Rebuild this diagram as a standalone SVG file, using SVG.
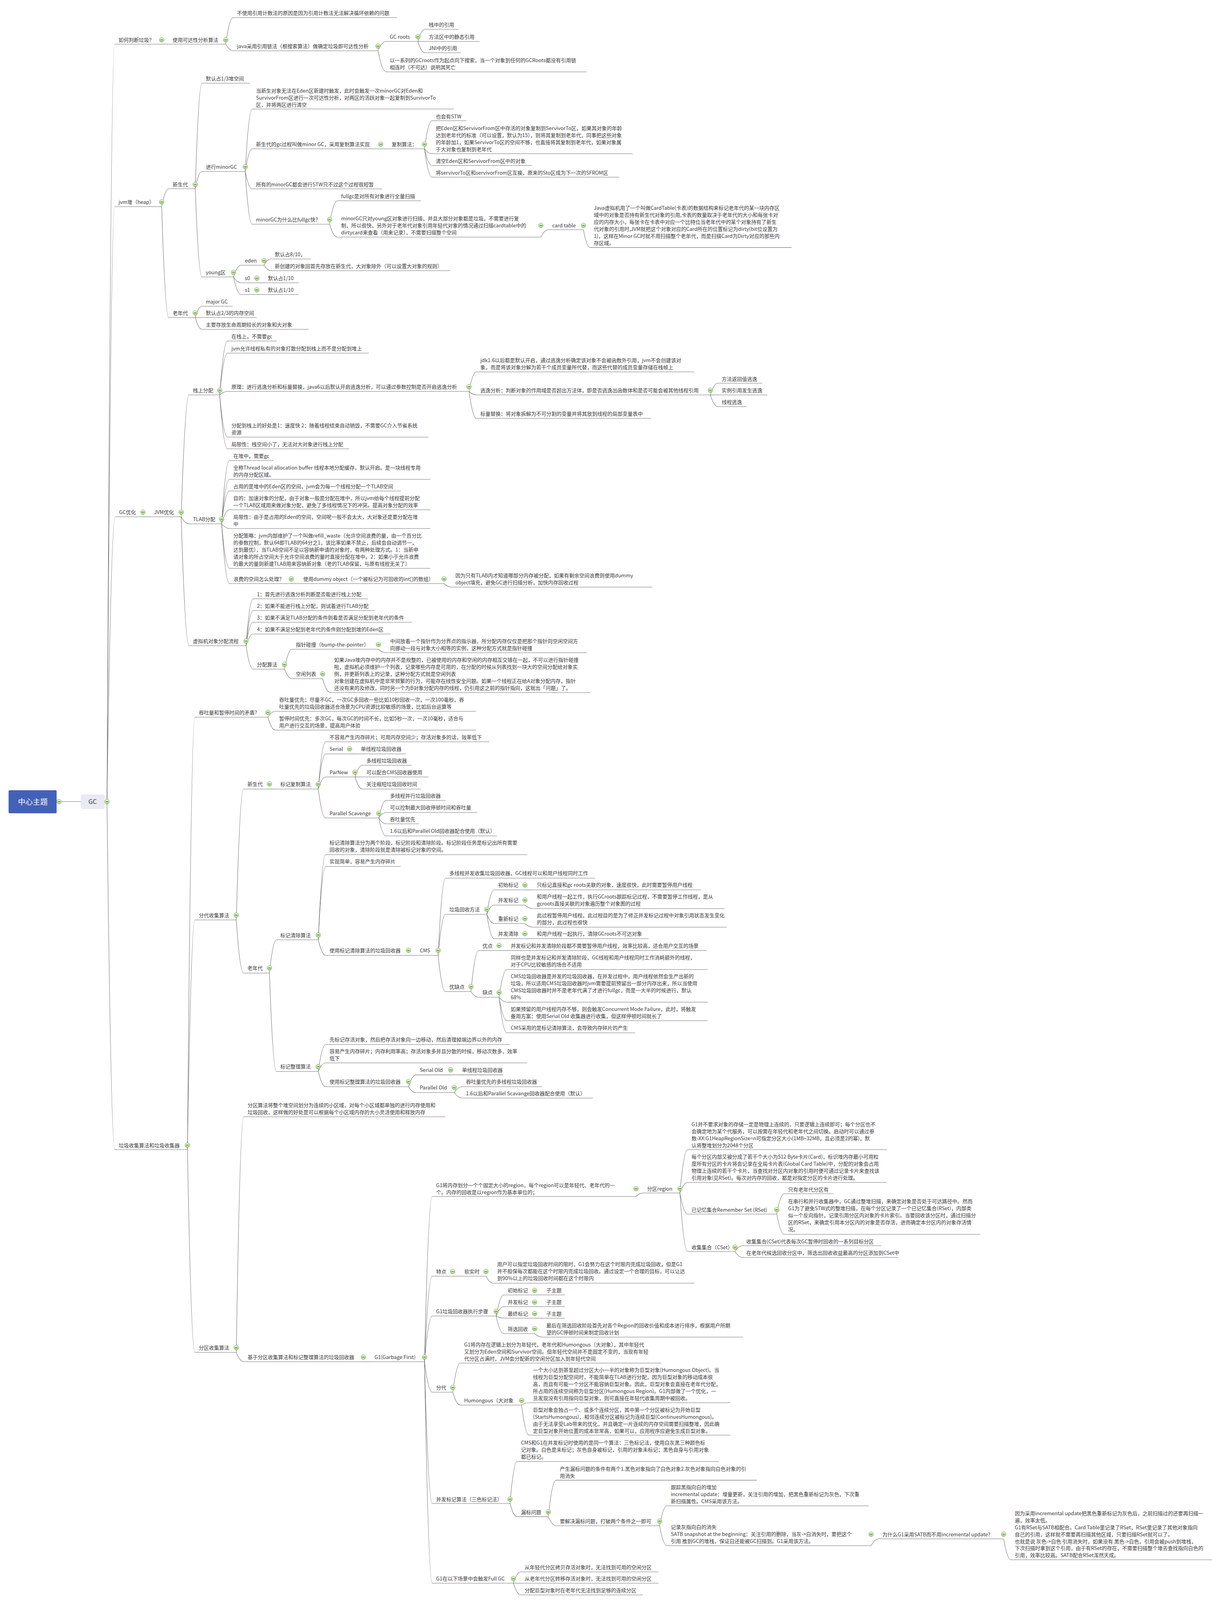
<svg xmlns="http://www.w3.org/2000/svg" width="3124" height="4104" viewBox="0 0 3124 4104">
<style>
.t{font-family:"Noto Sans CJK SC","Noto Sans","Liberation Sans",sans-serif;font-size:13px;fill:#3b3b3b}
.u{fill:none;stroke:#727272;stroke-width:1.1}
#connectors path{fill:none;stroke:#727272;stroke-width:1.1}
.rt{font-family:"Noto Sans CJK SC","Liberation Sans",sans-serif;font-size:19px;fill:#ffffff}
.gt{font-family:"Noto Sans CJK SC","Liberation Sans",sans-serif;font-size:16px;fill:#333333}
</style>
<defs>
<linearGradient id="ig" x1="0" y1="0" x2="0" y2="1"><stop offset="0" stop-color="#f0f9e6"/><stop offset="1" stop-color="#a6d27c"/></linearGradient>
<g id="mi"><circle r="6" fill="url(#ig)" stroke="#72a84d" stroke-width="1"/><path d="M-3.3 0H3.3" stroke="#3f6b28" stroke-width="1.4"/></g>
</defs>
<rect width="3124" height="4104" fill="#ffffff"/>
<g id="connectors">
<path d="M151 2052H207"/>
<path d="M274 2052Q283.8 113 293.5 113"/>
<path d="M274 2052Q283.8 529 293.5 529"/>
<path d="M274 2052Q284.5 1323 295 1323"/>
<path d="M274 2052Q284 2943 294 2943"/>
<path d="M414 113H432"/>
<path d="M578 113Q587.5 45 597 45"/>
<path d="M578 113Q587.5 130 597 130"/>
<path d="M968 130Q978 106 988 106"/>
<path d="M968 130Q978 183 988 183"/>
<path d="M1070 106Q1079 75 1088 75"/>
<path d="M1070 106H1088"/>
<path d="M1070 106Q1079 135 1088 135"/>
<path d="M414 529Q423 483 432 483"/>
<path d="M414 529Q423 813 432 813"/>
<path d="M500 483Q508.5 213 517 213"/>
<path d="M500 483Q508.5 439 517 439"/>
<path d="M500 483Q508.5 709 517 709"/>
<path d="M628 439Q636.8 279 645.5 279"/>
<path d="M628 439Q636.8 381 645.5 381"/>
<path d="M628 439Q636.8 483.5 645.5 483.5"/>
<path d="M628 439Q636.8 574 645.5 574"/>
<path d="M975 381H993"/>
<path d="M1087 381Q1096.5 309 1106 309"/>
<path d="M1087 381Q1096.5 393.5 1106 393.5"/>
<path d="M1087 381Q1096.5 423.5 1106 423.5"/>
<path d="M1087 381Q1096.5 453.5 1106 453.5"/>
<path d="M844 574Q853.8 514 863.6 514"/>
<path d="M844 574Q853.8 607 863.6 607"/>
<path d="M1385 607Q1394.5 588 1404 588"/>
<path d="M1494 588Q1502.3 633.6 1510.6 633.6"/>
<path d="M598 709Q607.5 679 617 679"/>
<path d="M598 709Q607.5 724 617 724"/>
<path d="M598 709Q607.5 754 617 754"/>
<path d="M676 679Q684.8 663 693.6 663"/>
<path d="M676 679Q684.8 693 693.6 693"/>
<path d="M657.6 724H676"/>
<path d="M657.6 754H676"/>
<path d="M500 813Q508.5 784 517 784"/>
<path d="M500 813H517"/>
<path d="M500 813Q508.5 843 517 843"/>
<path d="M366 1323H384.4"/>
<path d="M464 1323Q474 1011 484 1011"/>
<path d="M464 1323Q474 1341 484 1341"/>
<path d="M464 1323Q474 1653 484 1653"/>
<path d="M562.5 1011Q572.5 873 582.4 873"/>
<path d="M562.5 1011Q572.5 904 582.4 904"/>
<path d="M562.5 1011Q572.5 1002 582.4 1002"/>
<path d="M562.5 1011Q572.5 1119 582.4 1119"/>
<path d="M562.5 1011Q572.5 1149 582.4 1149"/>
<path d="M1201 1002Q1210.5 952 1220 952"/>
<path d="M1201 1002Q1210.5 1011 1220 1011"/>
<path d="M1201 1002Q1210.5 1071 1220 1071"/>
<path d="M1819 1011Q1828.5 981 1838 981"/>
<path d="M1819 1011H1838"/>
<path d="M1819 1011Q1828.5 1041 1838 1041"/>
<path d="M567.5 1341Q577.5 1179 587.4 1179"/>
<path d="M567.5 1341Q577.5 1227 587.4 1227"/>
<path d="M567.5 1341Q577.5 1257 587.4 1257"/>
<path d="M567.5 1341Q577.5 1305 587.4 1305"/>
<path d="M567.5 1341Q577.5 1353 587.4 1353"/>
<path d="M567.5 1341Q577.5 1455 587.4 1455"/>
<path d="M567.5 1341Q577.5 1494 587.4 1494"/>
<path d="M746 1494H766.4"/>
<path d="M1137 1494Q1146.5 1503 1156 1503"/>
<path d="M630 1653Q639 1533 648 1533"/>
<path d="M630 1653Q639 1563 648 1563"/>
<path d="M630 1653Q639 1593 648 1593"/>
<path d="M630 1653Q639 1623 648 1623"/>
<path d="M630 1653Q639 1713 648 1713"/>
<path d="M728.6 1713Q738 1662 747.5 1662"/>
<path d="M728.6 1713Q738 1737.5 747.5 1737.5"/>
<path d="M969 1662Q979 1671 989 1671"/>
<path d="M826 1737.5Q835.8 1773 845.5 1773"/>
<path d="M480 2943Q489.5 1836 499 1836"/>
<path d="M480 2943Q489.5 2355 499 2355"/>
<path d="M480 2943Q489.5 3462 499 3462"/>
<path d="M686 1836Q695.4 1821 704.7 1821"/>
<path d="M686 1836Q695.4 1869 704.7 1869"/>
<path d="M605 2355Q614.3 2020 623.6 2020"/>
<path d="M605 2355Q614.3 2491 623.6 2491"/>
<path d="M690 2020H707.8"/>
<path d="M815 2020Q824.4 1899 833.8 1899"/>
<path d="M815 2020Q824.4 1930 833.8 1930"/>
<path d="M815 2020Q824.4 1989 833.8 1989"/>
<path d="M815 2020Q824.4 2094 833.8 2094"/>
<path d="M895 1930H914"/>
<path d="M909 1989Q918.5 1959 928 1959"/>
<path d="M909 1989H928"/>
<path d="M909 1989Q918.5 2020 928 2020"/>
<path d="M970 2094Q979.2 2049 988.4 2049"/>
<path d="M970 2094Q979.2 2080 988.4 2080"/>
<path d="M970 2094Q979.2 2109 988.4 2109"/>
<path d="M970 2094Q979.2 2140 988.4 2140"/>
<path d="M690 2491Q698.9 2406 707.8 2406"/>
<path d="M690 2491Q698.9 2743 707.8 2743"/>
<path d="M815 2406Q824.4 2188 833.8 2188"/>
<path d="M815 2406Q824.4 2218 833.8 2218"/>
<path d="M815 2406Q824.4 2445.7 833.8 2445.7"/>
<path d="M1046 2445.7H1065"/>
<path d="M1122 2445.7Q1131.3 2248 1140.6 2248"/>
<path d="M1122 2445.7Q1131.3 2340.7 1140.6 2340.7"/>
<path d="M1122 2445.7Q1131.3 2538.5 1140.6 2538.5"/>
<path d="M1246.6 2340.7Q1256 2278 1265.4 2278"/>
<path d="M1246.6 2340.7Q1256 2317 1265.4 2317"/>
<path d="M1246.6 2340.7Q1256 2364 1265.4 2364"/>
<path d="M1246.6 2340.7Q1256 2403 1265.4 2403"/>
<path d="M1344 2278H1364.4"/>
<path d="M1344 2317Q1354.2 2326 1364.4 2326"/>
<path d="M1344 2364Q1354.2 2373.5 1364.4 2373.5"/>
<path d="M1344 2403H1364.4"/>
<path d="M1206 2538.5Q1215.8 2433.5 1225.6 2433.5"/>
<path d="M1206 2538.5Q1215.8 2553 1225.6 2553"/>
<path d="M1278 2433.5H1297.8"/>
<path d="M1278 2553Q1287.9 2482 1297.8 2482"/>
<path d="M1278 2553Q1287.9 2565.5 1297.8 2565.5"/>
<path d="M1278 2553Q1287.9 2613 1297.8 2613"/>
<path d="M1278 2553Q1287.9 2644 1297.8 2644"/>
<path d="M815 2743Q824.4 2674 833.8 2674"/>
<path d="M815 2743Q824.4 2721 833.8 2721"/>
<path d="M815 2743Q824.4 2782 833.8 2782"/>
<path d="M1046 2782Q1055.5 2751.6 1065 2751.6"/>
<path d="M1046 2782Q1055.5 2797 1065 2797"/>
<path d="M1154 2751.6H1173"/>
<path d="M1163 2797Q1173 2782 1183 2782"/>
<path d="M1163 2797Q1173 2811 1183 2811"/>
<path d="M605 3462Q614.5 2859 624 2859"/>
<path d="M605 3462Q614.5 3486 624 3486"/>
<path d="M930.5 3486H949"/>
<path d="M1087 3486Q1096.9 3063 1106.8 3063"/>
<path d="M1087 3486Q1096.9 3267 1106.8 3267"/>
<path d="M1087 3486Q1096.9 3369 1106.8 3369"/>
<path d="M1087 3486Q1096.9 3564 1106.8 3564"/>
<path d="M1087 3486Q1096.9 3849 1106.8 3849"/>
<path d="M1087 3486Q1096.9 4053 1106.8 4053"/>
<path d="M1628.5 3063Q1637.8 3054 1647 3054"/>
<path d="M1741 3054Q1750.9 2943 1760.7 2943"/>
<path d="M1741 3054Q1750.9 3027 1760.7 3027"/>
<path d="M1741 3054Q1750.9 3108 1760.7 3108"/>
<path d="M1741 3054Q1750.9 3204 1760.7 3204"/>
<path d="M1989 3108Q1998.5 3056 2008 3056"/>
<path d="M1989 3108Q1998.5 3160 2008 3160"/>
<path d="M1882 3204Q1891.5 3189 1901 3189"/>
<path d="M1882 3204Q1891.5 3219 1901 3219"/>
<path d="M1159 3267H1179"/>
<path d="M1244.4 3267Q1253.7 3285 1263 3285"/>
<path d="M1270.5 3369Q1280.3 3315 1290 3315"/>
<path d="M1270.5 3369Q1280.3 3345 1290 3345"/>
<path d="M1270.5 3369Q1280.3 3374.5 1290 3374.5"/>
<path d="M1270.5 3369Q1280.3 3414 1290 3414"/>
<path d="M1369 3315H1389"/>
<path d="M1369 3345H1389"/>
<path d="M1369 3374.5H1389"/>
<path d="M1369 3414Q1379 3423 1389 3423"/>
<path d="M1159.4 3564Q1169 3489.5 1178.5 3489.5"/>
<path d="M1159.4 3564Q1169 3597 1178.5 3597"/>
<path d="M1335.6 3597Q1345.2 3591 1354.8 3591"/>
<path d="M1335.6 3597Q1345.2 3674 1354.8 3674"/>
<path d="M1306 3849Q1315 3741.5 1324 3741.5"/>
<path d="M1306 3849Q1315 3882.6 1324 3882.6"/>
<path d="M1404 3882.6Q1413.8 3789.4 1423.6 3789.4"/>
<path d="M1404 3882.6Q1413.8 3906 1423.6 3906"/>
<path d="M1689 3906Q1698.4 3855 1707.8 3855"/>
<path d="M1689 3906Q1698.4 3957 1707.8 3957"/>
<path d="M2230.5 3957Q2240 3939.5 2249.5 3939.5"/>
<path d="M2570 3939.5Q2579.3 3993 2588.5 3993"/>
<path d="M1314.5 4053Q1324 4024 1333.6 4024"/>
<path d="M1314.5 4053H1333.6"/>
<path d="M1314.5 4053Q1324 4083 1333.6 4083"/>
</g>
<g id="n-root"><rect x="22" y="2023" width="123" height="59" rx="3" fill="#4361b8"/><text class="rt" x="84" y="2060" text-anchor="middle">中心主题</text><use href="#mi" x="151" y="2052"/></g>
<g id="n-gc"><rect x="207" y="2034" width="61" height="37" rx="4" fill="#e9eaf2"/><text class="gt" x="237" y="2058" text-anchor="middle">GC</text><use href="#mi" x="274" y="2052"/></g>
<g id="n-judge"><text class="t" x="303.5" y="107">如何判断垃圾？</text><path class="u" d="M293.5 113H414"/><use href="#mi" x="414" y="102"/></g>
<g id="n-reach"><text class="t" x="442" y="107">使用可达性分析算法</text><path class="u" d="M432 113H578"/><use href="#mi" x="578" y="102"/></g>
<g id="n-refcount"><text class="t" x="607" y="38">不使用引用计数法的原因是因为引用计数法无法解决循环依赖的问题</text><path class="u" d="M597 45H1016"/></g>
<g id="n-chain"><text class="t" x="607" y="123">java采用引用链法（根搜索算法）做确定垃圾即可达性分析</text><path class="u" d="M597 130H968"/><use href="#mi" x="968" y="118"/></g>
<g id="n-gcroots"><text class="t" x="998" y="99">GC roots</text><path class="u" d="M988 106H1070"/><use href="#mi" x="1070" y="94"/></g>
<g id="n-stackref"><text class="t" x="1098" y="68">栈中的引用</text><path class="u" d="M1088 75H1174"/></g>
<g id="n-staticref"><text class="t" x="1098" y="99">方法区中的静态引用</text><path class="u" d="M1088 106H1228"/></g>
<g id="n-jniref"><text class="t" x="1098" y="128">JNI中的引用</text><path class="u" d="M1088 135H1180"/></g>
<g id="n-search"><text class="t"><tspan x="998" y="159">以一系列的GCroots作为起点向下搜索，当一个对象到任何的GCRoots都没有引用链</tspan><tspan x="998" dy="18">相连时（不可达）说明其死亡</tspan></text><path class="u" d="M988 184H1502"/></g>
<g id="n-heap"><text class="t" x="303.5" y="522">jvm堆（heap）</text><path class="u" d="M293.5 529H414"/><use href="#mi" x="414" y="517"/></g>
<g id="n-young"><text class="t" x="442" y="477">新生代</text><path class="u" d="M432 483H500"/><use href="#mi" x="500" y="472"/></g>
<g id="n-old"><text class="t" x="442" y="806">老年代</text><path class="u" d="M432 813H500"/><use href="#mi" x="500" y="801"/></g>
<g id="n-13"><text class="t" x="527" y="206">默认占1/3堆空间</text><path class="u" d="M517 213H640"/></g>
<g id="n-minorgc"><text class="t" x="527" y="432">进行minorGC</text><path class="u" d="M517 439H628"/><use href="#mi" x="628" y="427"/></g>
<g id="n-youngarea"><text class="t" x="527" y="702">young区</text><path class="u" d="M517 709H598"/><use href="#mi" x="598" y="697"/></g>
<g id="n-trigger"><text class="t"><tspan x="655.5" y="236.5">当新生对象无法在Eden区新建时触发，此时会触发一次minorGC对Eden和</tspan><tspan x="655.5" dy="18">SurvivorFrom区进行一次可达性分析，对两区的活跃对象一起复制到SurvivorTo</tspan><tspan x="655.5" dy="18">区，并将两区进行清空</tspan></text><path class="u" d="M645.5 279H1162"/></g>
<g id="n-minorproc"><text class="t" x="655.5" y="374">新生代的gc过程叫做minor GC，采用复制算法实现</text><path class="u" d="M645.5 381H975"/><use href="#mi" x="975" y="369"/></g>
<g id="n-copy"><text class="t" x="1003" y="374">复制算法：</text><path class="u" d="M993 381H1087"/><use href="#mi" x="1087" y="369"/></g>
<g id="n-stw"><text class="t" x="1116" y="302.5">也会有STW</text><path class="u" d="M1106 309H1194"/></g>
<g id="n-copydetail"><text class="t"><tspan x="1116" y="332.5">把Eden区和ServivorFrom区中存活的对象复制到ServivorTo区，如果其对象的年龄</tspan><tspan x="1116" dy="18">达到老年代的标准（可以设置，默认为15），则将其复制到老年代，同事把这些对象</tspan><tspan x="1116" dy="18">的年龄加1，如果ServivorTo区的空间不够，也直接将其复制到老年代，如果对象属</tspan><tspan x="1116" dy="18">于大对象也复制到老年代</tspan></text><path class="u" d="M1106 393.5H1620"/></g>
<g id="n-clear"><text class="t" x="1116" y="416.6">清空Eden区和ServivorFrom区中的对象</text><path class="u" d="M1106 423.5H1362"/></g>
<g id="n-swap"><text class="t" x="1116" y="446.7">将servivorTo区和servivorFrom区互换，原来的Sto区成为下一次的SFROM区</text><path class="u" d="M1106 453.5H1585"/></g>
<g id="n-allstw"><text class="t" x="655.5" y="476.6">所有的minorGC都会进行STW只不过这个过程很短暂</text><path class="u" d="M645.5 483.5H978"/></g>
<g id="n-why"><text class="t" x="655.5" y="567">minorGC为什么比fullgc快？</text><path class="u" d="M645.5 574H844"/><use href="#mi" x="844" y="562"/></g>
<g id="n-fullgc"><text class="t" x="873.6" y="507">fullgc是对所有对象进行全量扫描</text><path class="u" d="M863.6 514H1078"/></g>
<g id="n-minoronly"><text class="t"><tspan x="873.6" y="563.5">minorGC只对young区对象进行扫描，并且大部分对象都是垃圾，不需要进行复</tspan><tspan x="873.6" dy="18">制，所以很快，另外对于老年代对象引用年轻代对象的情况通过扫描cardtable中的</tspan><tspan x="873.6" dy="18">dirtycard来查看（用来记录），不需要扫描整个空间</tspan></text><path class="u" d="M863.6 607H1385"/><use href="#mi" x="1385" y="577"/></g>
<g id="n-cardtable"><text class="t" x="1414" y="582">card table</text><path class="u" d="M1404 588H1494"/><use href="#mi" x="1494" y="577"/></g>
<g id="n-carddetail"><text class="t"><tspan x="1520.6" y="536.7">Java虚拟机用了一个叫做CardTable(卡表)的数据结构来标记老年代的某一块内存区</tspan><tspan x="1520.6" dy="18">域中的对象是否持有新生代对象的引用,卡表的数量取决于老年代的大小和每张卡对</tspan><tspan x="1520.6" dy="18">应的内存大小，每张卡在卡表中对应一个比特位当老年代中的某个对象持有了新生</tspan><tspan x="1520.6" dy="18">代对象的引用时,JVM就把这个对象对应的Card所在的位置标记为dirty(bit位设置为</tspan><tspan x="1520.6" dy="18">1)，这样在Minor GC时就不用扫描整个老年代，而是扫描Card为Dirty对应的那些内</tspan><tspan x="1520.6" dy="18">存区域。</tspan></text><path class="u" d="M1510.6 633.6H2027"/></g>
<g id="n-eden"><text class="t" x="627" y="672">eden</text><path class="u" d="M617 679H676"/><use href="#mi" x="676" y="667"/></g>
<g id="n-810"><text class="t" x="703.6" y="656">默认占8/10，</text><path class="u" d="M693.6 663H796"/></g>
<g id="n-newobj"><text class="t" x="703.6" y="686">新创建的对象回首先存放在新生代，大对象除外（可以设置大对象的规则）</text><path class="u" d="M693.6 693H1153"/></g>
<g id="n-s0"><text class="t" x="627" y="717">s0</text><path class="u" d="M617 724H657.6"/><use href="#mi" x="657.6" y="712"/></g>
<g id="n-s0d"><text class="t" x="686" y="717">默认占1/10</text><path class="u" d="M676 724H765"/></g>
<g id="n-s1"><text class="t" x="627" y="747">s1</text><path class="u" d="M617 754H657.6"/><use href="#mi" x="657.6" y="742"/></g>
<g id="n-s1d"><text class="t" x="686" y="747">默认占1/10</text><path class="u" d="M676 754H765"/></g>
<g id="n-major"><text class="t" x="527" y="777">major GC</text><path class="u" d="M517 784H596"/></g>
<g id="n-23"><text class="t" x="527" y="806">默认占2/3的内存空间</text><path class="u" d="M517 813H657"/></g>
<g id="n-longlive"><text class="t" x="527" y="836">主要存放生命周期较长的对象和大对象</text><path class="u" d="M517 843H790"/></g>
<g id="n-gcopt"><text class="t" x="305" y="1316">GC优化</text><path class="u" d="M295 1323H366"/><use href="#mi" x="366" y="1311"/></g>
<g id="n-jvmopt"><text class="t" x="394.4" y="1316">JVM优化</text><path class="u" d="M384.4 1323H464"/><use href="#mi" x="464" y="1311"/></g>
<g id="n-stackalloc"><text class="t" x="494" y="1004">栈上分配</text><path class="u" d="M484 1011H562.5"/><use href="#mi" x="562.5" y="999"/></g>
<g id="n-tlab"><text class="t" x="494" y="1334">TLAB分配</text><path class="u" d="M484 1341H567.5"/><use href="#mi" x="567.5" y="1329"/></g>
<g id="n-allocflow"><text class="t" x="494" y="1646">虚拟机对象分配流程</text><path class="u" d="M484 1653H630"/><use href="#mi" x="630" y="1641"/></g>
<g id="n-onstack"><text class="t" x="592.4" y="866">在栈上，不需要gc</text><path class="u" d="M582.4 873H709"/></g>
<g id="n-scatter"><text class="t" x="592.4" y="897">jvm允许线程私有的对象打散分配到栈上而不是分配到堆上</text><path class="u" d="M582.4 904H944.5"/></g>
<g id="n-principle"><text class="t" x="592.4" y="995">原理：进行逃逸分析和标量替换，java6以后默认开启逃逸分析，可以通过参数控制是否开启逃逸分析</text><path class="u" d="M582.4 1002H1201"/><use href="#mi" x="1201" y="990"/></g>
<g id="n-jdk16"><text class="t"><tspan x="1230" y="926.5">jdk1.6以后都是默认开启，通过逃逸分析确定该对象不会被函数外引用，jvm不会创建该对</tspan><tspan x="1230" dy="18">象，而是将该对象分解为若干个成员变量所代替，而这些代替的成员变量存储在栈帧上</tspan></text><path class="u" d="M1220 952H1778"/></g>
<g id="n-escape"><text class="t" x="1230" y="1004">逃逸分析：判断对象的作用域是否超出方法体，即是否逃逸出函数体和是否可能会被其他线程引用</text><path class="u" d="M1220 1011H1819"/><use href="#mi" x="1819" y="999"/></g>
<g id="n-esc1"><text class="t" x="1848" y="975">方法返回值逃逸</text><path class="u" d="M1838 981H1952"/></g>
<g id="n-esc2"><text class="t" x="1848" y="1004">实例引用发生逃逸</text><path class="u" d="M1838 1011H1965"/></g>
<g id="n-esc3"><text class="t" x="1848" y="1034">线程逃逸</text><path class="u" d="M1838 1041H1912"/></g>
<g id="n-scalar"><text class="t" x="1230" y="1064">标量替换：将对象拆解为不可分割的变量并将其放到线程的局部变量表中</text><path class="u" d="M1220 1071H1667"/></g>
<g id="n-benefit"><text class="t"><tspan x="592.4" y="1093.6">分配到栈上的好处是1：速度快 2：随着线程结束自动销毁，不需要GC介入节省系统</tspan><tspan x="592.4" dy="18">资源</tspan></text><path class="u" d="M582.4 1119H1097"/></g>
<g id="n-stacklimit"><text class="t" x="592.4" y="1142">局限性：栈空间小了，无法对大对象进行栈上分配</text><path class="u" d="M582.4 1149H894"/></g>
<g id="n-onheap"><text class="t" x="597.4" y="1172">在堆中，需要gc</text><path class="u" d="M587.4 1179H700"/></g>
<g id="n-tlabfull"><text class="t"><tspan x="597.4" y="1202">全称Thread local allocation buffer 线程本地分配缓存，默认开启。是一块线程专用</tspan><tspan x="597.4" dy="18">的内存分配区域。</tspan></text><path class="u" d="M587.4 1227H1102"/></g>
<g id="n-tlabeden"><text class="t" x="597.4" y="1249.5">占用的是堆中的Eden区的空间，jvm会为每一个线程分配一个TLAB空间</text><path class="u" d="M587.4 1257H1026"/></g>
<g id="n-tlabgoal"><text class="t"><tspan x="597.4" y="1280.4">目的：加速对象的分配，由于对象一般是分配在堆中，所以jvm给每个线程提前分配</tspan><tspan x="597.4" dy="18">一个TLAB区域用来做对象分配，避免了多线程情况下的冲突。提高对象分配的效率</tspan></text><path class="u" d="M587.4 1305H1102"/></g>
<g id="n-tlablimit"><text class="t"><tspan x="597.4" y="1328">局限性：由于是占用的Eden的空间，空间呢一般不会太大，大对象还是要分配在堆</tspan><tspan x="597.4" dy="18">中</tspan></text><path class="u" d="M587.4 1353H1102"/></g>
<g id="n-tlabstrategy"><text class="t"><tspan x="597.4" y="1376">分配策略：jvm内部维护了一个叫做refill_waste（允许空间浪费的量，由一个百分比</tspan><tspan x="597.4" dy="18">的参数控制，默认64即TLAB的64分之1，该比率如果不禁止，后续会自动调节一，</tspan><tspan x="597.4" dy="18">达到最优），当TLAB空间不足以容纳新申请的对象时，有两种处理方式。1：当新申</tspan><tspan x="597.4" dy="18">请对象的所占空间大于允许空间浪费的量时直接分配在堆中。2：如果小于允许浪费</tspan><tspan x="597.4" dy="18">的最大的量则新建TLAB用来容纳新对象（老的TLAB保留，与原有线程无关了）</tspan></text><path class="u" d="M587.4 1455H1102"/></g>
<g id="n-waste"><text class="t" x="597.4" y="1487">浪费的空间怎么处理？</text><path class="u" d="M587.4 1494H746"/><use href="#mi" x="746" y="1482"/></g>
<g id="n-dummy"><text class="t" x="776.4" y="1487">使用dummy object（一个被标记为可回收的int[]的数组）</text><path class="u" d="M766.4 1494H1137"/><use href="#mi" x="1137" y="1482"/></g>
<g id="n-dummyd"><text class="t"><tspan x="1166" y="1478">因为只有TLAB内才知道哪部分内存被分配，如果有剩余空间浪费则使用dummy</tspan><tspan x="1166" dy="18">object填充，避免GC进行扫描分析，加快内存回收过程</tspan></text><path class="u" d="M1156 1503H1670"/></g>
<g id="n-flow1"><text class="t" x="658" y="1526">1：首先进行逃逸分析判断是否能进行栈上分配</text><path class="u" d="M648 1533H942.5"/></g>
<g id="n-flow2"><text class="t" x="658" y="1556">2：如果不能进行栈上分配，则试着进行TLAB分配</text><path class="u" d="M648 1563H960"/></g>
<g id="n-flow3"><text class="t" x="658" y="1586">3：如果不满足TLAB分配的条件则看是否满足分配到老年代的条件</text><path class="u" d="M648 1593H1054.5"/></g>
<g id="n-flow4"><text class="t" x="658" y="1616">4：如果不满足分配到老年代的条件则分配到堆的Eden区</text><path class="u" d="M648 1623H1000"/></g>
<g id="n-allocalgo"><text class="t" x="658" y="1706">分配算法</text><path class="u" d="M648 1713H728.6"/><use href="#mi" x="728.6" y="1701"/></g>
<g id="n-bump"><text class="t" x="757.5" y="1655">指针碰撞（bump-the-pointer）</text><path class="u" d="M747.5 1662H969"/><use href="#mi" x="969" y="1650"/></g>
<g id="n-bumpd"><text class="t"><tspan x="999" y="1646">中间放着一个指针作为分界点的指示器，所分配内存仅仅是把那个指针向空闲空间方</tspan><tspan x="999" dy="18">向挪动一段与对象大小相等的实例，这种分配方式就是指针碰撞</tspan></text><path class="u" d="M989 1671H1503"/></g>
<g id="n-freelist"><text class="t" x="757.5" y="1730">空闲列表</text><path class="u" d="M747.5 1737.5H826"/><use href="#mi" x="826" y="1725"/></g>
<g id="n-freelistd"><text class="t"><tspan x="855.5" y="1693.6">如果Java堆内存中的内存并不是规整的，已被使用的内存和空闲的内存相互交错在一起，不可以进行指针碰撞</tspan><tspan x="855.5" dy="18">啦，虚拟机必须维护一个列表，记录哪些内存是可用的，在分配的时候从列表找到一块大的空间分配给对象实</tspan><tspan x="855.5" dy="18">例，并更新列表上的记录，这种分配方式就是空闲列表</tspan><tspan x="855.5" dy="18">对象创建在虚拟机中是非常频繁的行为，可能存在线性安全问题。如果一个线程正在给A对象分配内存，指针</tspan><tspan x="855.5" dy="18">还没有来的及修改，同时另一个为B对象分配内存的线程，仍引用这之前的指针指向，这就出「问题」了。</tspan></text><path class="u" d="M845.5 1773H1512"/></g>
<g id="n-algo"><text class="t" x="304" y="2936.5">垃圾收集算法和垃圾收集器</text><path class="u" d="M294 2943H480"/><use href="#mi" x="480" y="2931.5"/></g>
<g id="n-tradeoff"><text class="t" x="509" y="1828.5">吞吐量和暂停时间的矛盾?</text><path class="u" d="M499 1836H686"/><use href="#mi" x="686" y="1823.5"/></g>
<g id="n-throughput"><text class="t"><tspan x="714.7" y="1796">吞吐量优先：尽量不GC，一次GC多回收一些比如10秒回收一次，一次100毫秒，吞</tspan><tspan x="714.7" dy="18">吐量优先的垃圾回收器适合场景为CPU资源比较敏感的场景，比如后台运算等</tspan></text><path class="u" d="M704.7 1821H1219"/></g>
<g id="n-pause"><text class="t"><tspan x="714.7" y="1844">暂停时间优先：多次GC，每次GC的时间不长，比如5秒一次，一次10毫秒，适合与</tspan><tspan x="714.7" dy="18">用户进行交互的场景，提高用户体验</tspan></text><path class="u" d="M704.7 1869H1219"/></g>
<g id="n-gen"><text class="t" x="509" y="2347.6">分代收集算法</text><path class="u" d="M499 2355H605"/><use href="#mi" x="605" y="2342.6"/></g>
<g id="n-gyoung"><text class="t" x="633.6" y="2012">新生代</text><path class="u" d="M623.6 2020H690"/><use href="#mi" x="690" y="2007"/></g>
<g id="n-markcopy"><text class="t" x="717.8" y="2012">标记复制算法</text><path class="u" d="M707.8 2020H815"/><use href="#mi" x="815" y="2007"/></g>
<g id="n-mc1"><text class="t" x="843.8" y="1891.6">不容易产生内存碎片；可用内存空间少；存活对象多的话，效率低下</text><path class="u" d="M833.8 1899H1253"/></g>
<g id="n-serial"><text class="t" x="843.8" y="1922">Serial</text><path class="u" d="M833.8 1930H895"/><use href="#mi" x="895" y="1917"/></g>
<g id="n-seriald"><text class="t" x="924" y="1922">单线程垃圾回收器</text><path class="u" d="M914 1930H1039"/></g>
<g id="n-parnew"><text class="t" x="843.8" y="1981.8">ParNew</text><path class="u" d="M833.8 1989H909"/><use href="#mi" x="909" y="1976.8"/></g>
<g id="n-pn1"><text class="t" x="938" y="1951.5">多线程垃圾回收器</text><path class="u" d="M928 1959H1054"/></g>
<g id="n-pn2"><text class="t" x="938" y="1981.8">可以配合CMS回收器使用</text><path class="u" d="M928 1989H1097"/></g>
<g id="n-pn3"><text class="t" x="938" y="2012">关注缩短垃圾回收时间</text><path class="u" d="M928 2020H1078"/></g>
<g id="n-ps"><text class="t" x="843.8" y="2086.8">Parallel Scavenge</text><path class="u" d="M833.8 2094H970"/><use href="#mi" x="970" y="2081.8"/></g>
<g id="n-ps1"><text class="t" x="998.4" y="2041.7">多线程并行垃圾回收器</text><path class="u" d="M988.4 2049H1141"/></g>
<g id="n-ps2"><text class="t" x="998.4" y="2072">可以控制最大回收停顿时间和吞吐量</text><path class="u" d="M988.4 2080H1222"/></g>
<g id="n-ps3"><text class="t" x="998.4" y="2101.6">吞吐量优先</text><path class="u" d="M988.4 2109H1073"/></g>
<g id="n-ps4"><text class="t" x="998.4" y="2131.9">1.6以后和Parallel Old回收器配合使用（默认）</text><path class="u" d="M988.4 2140H1272"/></g>
<g id="n-gold"><text class="t" x="633.6" y="2483">老年代</text><path class="u" d="M623.6 2491H690"/><use href="#mi" x="690" y="2478"/></g>
<g id="n-marksweep"><text class="t" x="717.8" y="2398.5">标记清除算法</text><path class="u" d="M707.8 2406H815"/><use href="#mi" x="815" y="2393.5"/></g>
<g id="n-ms1"><text class="t"><tspan x="843.8" y="2162">标记清除算法分为两个阶段，标记阶段和清除阶段。标记阶段任务是标记出所有需要</tspan><tspan x="843.8" dy="18">回收的对象，清除阶段就是清除被标记对象的空间。</tspan></text><path class="u" d="M833.8 2188H1350"/></g>
<g id="n-ms2"><text class="t" x="843.8" y="2210.4">实现简单，容易产生内存碎片</text><path class="u" d="M833.8 2218H1026"/></g>
<g id="n-msuse"><text class="t" x="843.8" y="2437.8">使用标记清除算法的垃圾回收器</text><path class="u" d="M833.8 2445.7H1046"/><use href="#mi" x="1046" y="2432.8"/></g>
<g id="n-cms"><text class="t" x="1075" y="2437.8">CMS</text><path class="u" d="M1065 2445.7H1122"/><use href="#mi" x="1122" y="2432.8"/></g>
<g id="n-cms1"><text class="t" x="1150.6" y="2240">多线程并发收集垃圾回收器，GC线程可以和用户线程同时工作</text><path class="u" d="M1140.6 2248H1524"/></g>
<g id="n-cmsmethod"><text class="t" x="1150.6" y="2332.8">垃圾回收方法</text><path class="u" d="M1140.6 2340.7H1246.6"/><use href="#mi" x="1246.6" y="2327.8"/></g>
<g id="n-im"><text class="t" x="1275.4" y="2270.4">初始标记</text><path class="u" d="M1265.4 2278H1344"/><use href="#mi" x="1344" y="2265.4"/></g>
<g id="n-imd"><text class="t" x="1374.4" y="2270.4">只标记直接和gc roots关联的对象，速度很快，此时需要暂停用户线程</text><path class="u" d="M1364.4 2278H1795"/></g>
<g id="n-cm"><text class="t" x="1275.4" y="2309">并发标记</text><path class="u" d="M1265.4 2317H1344"/><use href="#mi" x="1344" y="2304"/></g>
<g id="n-cmd"><text class="t"><tspan x="1374.4" y="2300">和用户线程一起工作，执行GCroots跟踪标记过程，不需要暂停工作线程，是从</tspan><tspan x="1374.4" dy="18">gcroots直接关联的对象遍历整个对象图的过程</tspan></text><path class="u" d="M1364.4 2326H1855"/></g>
<g id="n-rm"><text class="t" x="1275.4" y="2356.7">重新标记</text><path class="u" d="M1265.4 2364H1344"/><use href="#mi" x="1344" y="2351.7"/></g>
<g id="n-rmd"><text class="t"><tspan x="1374.4" y="2347.6">此过程暂停用户线程，此过程目的是为了修正并发标记过程中对象引用状态发生变化</tspan><tspan x="1374.4" dy="18">的部分，此过程也很快</tspan></text><path class="u" d="M1364.4 2373.5H1861"/></g>
<g id="n-cs"><text class="t" x="1275.4" y="2395">并发清除</text><path class="u" d="M1265.4 2403H1344"/><use href="#mi" x="1344" y="2390"/></g>
<g id="n-csd"><text class="t" x="1374.4" y="2395">和用户线程一起执行，清除GCroots不可达对象</text><path class="u" d="M1364.4 2403H1661"/></g>
<g id="n-proscons"><text class="t" x="1150.6" y="2530.6">优缺点</text><path class="u" d="M1140.6 2538.5H1206"/><use href="#mi" x="1206" y="2525.6"/></g>
<g id="n-pro"><text class="t" x="1235.6" y="2425.6">优点</text><path class="u" d="M1225.6 2433.5H1278"/><use href="#mi" x="1278" y="2420.6"/></g>
<g id="n-prod"><text class="t" x="1307.8" y="2425.6">并发标记和并发清除阶段都不需要暂停用户线程，效率比较高，适合用户交互的场景</text><path class="u" d="M1297.8 2433.5H1810"/></g>
<g id="n-con"><text class="t" x="1235.6" y="2545.4">缺点</text><path class="u" d="M1225.6 2553H1278"/><use href="#mi" x="1278" y="2540.4"/></g>
<g id="n-con1"><text class="t"><tspan x="1307.8" y="2456">同样也是并发标记和并发清除阶段，GC线程和用户线程同时工作消耗额外的线程，</tspan><tspan x="1307.8" dy="18">对于CPU比较敏感的场合不适用</tspan></text><path class="u" d="M1297.8 2482H1812"/></g>
<g id="n-con2"><text class="t"><tspan x="1307.8" y="2503.5">CMS垃圾回收器是并发的垃圾回收器，在并发过程中，用户线程依然会生产出新的</tspan><tspan x="1307.8" dy="18">垃圾，所以适用CMS垃圾回收器时jvm需要提前预留出一部分内存出来，所以当使用</tspan><tspan x="1307.8" dy="18">CMS垃圾回收器时并不是老年代满了才进行fullgc，而是一大半的时候进行，默认</tspan><tspan x="1307.8" dy="18">68%</tspan></text><path class="u" d="M1297.8 2565.5H1812"/></g>
<g id="n-con3"><text class="t"><tspan x="1307.8" y="2588">如果预留的用户线程内存不够，则会触发Concurrent Mode Failure，此时，将触发</tspan><tspan x="1307.8" dy="18">备用方案：使用Serial Old 收集器进行收集，但这样停顿时间就长了</tspan></text><path class="u" d="M1297.8 2613H1812"/></g>
<g id="n-con4"><text class="t" x="1307.8" y="2636">CMS采用的是标记清除算法，会导致内存碎片的产生</text><path class="u" d="M1297.8 2644H1626"/></g>
<g id="n-markcompact"><text class="t" x="717.8" y="2735.4">标记整理算法</text><path class="u" d="M707.8 2743H815"/><use href="#mi" x="815" y="2730.4"/></g>
<g id="n-mk1"><text class="t" x="843.8" y="2666">先标记存活对象，然后把存活对象向一边移动，然后清理掉端边界以外的内存</text><path class="u" d="M833.8 2674H1306"/></g>
<g id="n-mk2"><text class="t"><tspan x="843.8" y="2695.5">容易产生内存碎片；内存利用率高；存活对象多并且分散的时候，移动次数多，效率</tspan><tspan x="843.8" dy="18">低下</tspan></text><path class="u" d="M833.8 2721H1350"/></g>
<g id="n-mkuse"><text class="t" x="843.8" y="2774">使用标记整理算法的垃圾回收器</text><path class="u" d="M833.8 2782H1046"/><use href="#mi" x="1046" y="2769"/></g>
<g id="n-serialold"><text class="t" x="1075" y="2743.8">Serial Old</text><path class="u" d="M1065 2751.6H1154"/><use href="#mi" x="1154" y="2738.8"/></g>
<g id="n-serialoldd"><text class="t" x="1183" y="2743.8">单线程垃圾回收器</text><path class="u" d="M1173 2751.6H1289"/></g>
<g id="n-parold"><text class="t" x="1075" y="2789">Parallel Old</text><path class="u" d="M1065 2797H1163"/><use href="#mi" x="1163" y="2784"/></g>
<g id="n-po1"><text class="t" x="1193" y="2774">吞吐量优先的多线程垃圾回收器</text><path class="u" d="M1183 2782H1388"/></g>
<g id="n-po2"><text class="t" x="1193" y="2804">1.6以后和Parallel Scavange回收器配合使用（默认）</text><path class="u" d="M1183 2811H1518"/></g>
<g id="n-region"><text class="t" x="509" y="3455">分区收集算法</text><path class="u" d="M499 3462H605"/><use href="#mi" x="605" y="3450"/></g>
<g id="n-regiondesc"><text class="t"><tspan x="634" y="2834">分区算法将整个堆空间划分为连续的小区域，对每个小区域都单独的进行内存使用和</tspan><tspan x="634" dy="18">垃圾回收，这样做的好处是可以根据每个小区域内存的大小灵活使用和释放内存</tspan></text><path class="u" d="M624 2859H1140"/></g>
<g id="n-g1base"><text class="t" x="634" y="3479">基于分区收集算法和标记整理算法的垃圾回收器</text><path class="u" d="M624 3486H930.5"/><use href="#mi" x="930.5" y="3474"/></g>
<g id="n-g1"><text class="t" x="959" y="3479">G1(Garbage First)</text><path class="u" d="M949 3486H1087"/><use href="#mi" x="1087" y="3474"/></g>
<g id="n-g1mem"><text class="t"><tspan x="1116.8" y="3038.7">G1将内存划分一个个固定大小的region，每个region可以是年轻代、老年代的一</tspan><tspan x="1116.8" dy="18">个。内存的回收是以region作为基本单位的；</tspan></text><path class="u" d="M1106.8 3063H1628.5"/><use href="#mi" x="1628.5" y="3042.7"/></g>
<g id="n-partregion"><text class="t" x="1657" y="3047.7">分区region</text><path class="u" d="M1647 3054H1741"/><use href="#mi" x="1741" y="3042.7"/></g>
<g id="n-pr1"><text class="t"><tspan x="1770.7" y="2882.5">G1并不要求对象的存储一定是物理上连续的，只要逻辑上连续即可；每个分区也不</tspan><tspan x="1770.7" dy="18">会确定地为某个代服务，可以按需在年轻代和老年代之间切换。启动时可以通过参</tspan><tspan x="1770.7" dy="18">数-XX:G1HeapRegionSize=n可指定分区大小(1MB~32MB，且必须是2的幂)，默</tspan><tspan x="1770.7" dy="18">认将整堆划分为2048个分区</tspan></text><path class="u" d="M1760.7 2943H2271"/></g>
<g id="n-pr2"><text class="t"><tspan x="1770.7" y="2966.4">每个分区内部又被分成了若干个大小为512 Byte卡片(Card)，标识堆内存最小可用粒</tspan><tspan x="1770.7" dy="18">度所有分区的卡片将会记录在全局卡片表(Global Card Table)中，分配的对象会占用</tspan><tspan x="1770.7" dy="18">物理上连续的若干个卡片，当查找对分区内对象的引用时便可通过记录卡片来查找该</tspan><tspan x="1770.7" dy="18">引用对象(见RSet)。每次对内存的回收，都是对指定分区的卡片进行处理。</tspan></text><path class="u" d="M1760.7 3027H2271"/></g>
<g id="n-rset"><text class="t" x="1770.7" y="3101.7">已记忆集合Remember Set (RSet)</text><path class="u" d="M1760.7 3108H1989"/><use href="#mi" x="1989" y="3096.7"/></g>
<g id="n-rs1"><text class="t" x="2018" y="3050">只有老年代分区有</text><path class="u" d="M2008 3056H2134"/></g>
<g id="n-rs2"><text class="t"><tspan x="2018" y="3080">在串行和并行收集器中，GC通过整堆扫描，来确定对象是否处于可达路径中。然而</tspan><tspan x="2018" dy="18">G1为了避免STW式的整堆扫描，在每个分区记录了一个已记忆集合(RSet)，内部类</tspan><tspan x="2018" dy="18">似一个反向指针，记录引用分区内对象的卡片索引。当要回收该分区时，通过扫描分</tspan><tspan x="2018" dy="18">区的RSet，来确定引用本分区内的对象是否存活，进而确定本分区内的对象存活情</tspan><tspan x="2018" dy="18">况。</tspan></text><path class="u" d="M2008 3160H2510"/></g>
<g id="n-cset"><text class="t" x="1770.7" y="3197.7">收集集合（CSet）</text><path class="u" d="M1760.7 3204H1882"/><use href="#mi" x="1882" y="3192.7"/></g>
<g id="n-cs1"><text class="t" x="1911" y="3182.5">收集集合(CSet)代表每次GC暂停时回收的一系列目标分区</text><path class="u" d="M1901 3189H2257"/></g>
<g id="n-cs2"><text class="t" x="1911" y="3212.4">在老年代候选回收分区中，筛选出回收收益最高的分区添加到CSet中</text><path class="u" d="M1901 3219H2300"/></g>
<g id="n-feature"><text class="t" x="1116.8" y="3260">特点</text><path class="u" d="M1106.8 3267H1159"/><use href="#mi" x="1159" y="3255"/></g>
<g id="n-softrt"><text class="t" x="1189" y="3260">软实时</text><path class="u" d="M1179 3267H1244.4"/><use href="#mi" x="1244.4" y="3255"/></g>
<g id="n-softrtd"><text class="t"><tspan x="1273" y="3241.4">用户可以指定垃圾回收时间的限时，G1会努力在这个时限内完成垃圾回收，但是G1</tspan><tspan x="1273" dy="18">并不担保每次都能在这个时限内完成垃圾回收。通过设定一个合理的目标，可以让达</tspan><tspan x="1273" dy="18">到90%以上的垃圾回收时间都在这个时限内</tspan></text><path class="u" d="M1263 3285H1778"/></g>
<g id="n-steps"><text class="t" x="1116.8" y="3362">G1垃圾回收器执行步骤</text><path class="u" d="M1106.8 3369H1270.5"/><use href="#mi" x="1270.5" y="3357"/></g>
<g id="n-st1"><text class="t" x="1300" y="3308.4">初始标记</text><path class="u" d="M1290 3315H1369"/><use href="#mi" x="1369" y="3303.4"/></g>
<g id="n-st1d"><text class="t" x="1399" y="3308.4">子主题</text><path class="u" d="M1389 3315H1447"/></g>
<g id="n-st2"><text class="t" x="1300" y="3338.3">并发标记</text><path class="u" d="M1290 3345H1369"/><use href="#mi" x="1369" y="3333.3"/></g>
<g id="n-st2d"><text class="t" x="1399" y="3338.3">子主题</text><path class="u" d="M1389 3345H1447"/></g>
<g id="n-st3"><text class="t" x="1300" y="3367.7">最终标记</text><path class="u" d="M1290 3374.5H1369"/><use href="#mi" x="1369" y="3362.7"/></g>
<g id="n-st3d"><text class="t" x="1399" y="3367.7">子主题</text><path class="u" d="M1389 3374.5H1447"/></g>
<g id="n-st4"><text class="t" x="1300" y="3406.6">筛选回收</text><path class="u" d="M1290 3414H1369"/><use href="#mi" x="1369" y="3401.6"/></g>
<g id="n-st4d"><text class="t"><tspan x="1399" y="3398">最后在筛选回收阶段首先对各个Region的回收价值和成本进行排序，根据用户所期</tspan><tspan x="1399" dy="18">望的GC停顿时间来制定回收计划</tspan></text><path class="u" d="M1389 3423H1903"/></g>
<g id="n-g1gen"><text class="t" x="1116.8" y="3557">分代</text><path class="u" d="M1106.8 3564H1159.4"/><use href="#mi" x="1159.4" y="3552"/></g>
<g id="n-g1gen1"><text class="t"><tspan x="1188.5" y="3447">G1将内存在逻辑上划分为年轻代，老年代和Humongous（大对象），其中年轻代</tspan><tspan x="1188.5" dy="18">又划分为Eden空间和Survivor空间。但年轻代空间并不是固定不变的，当现有年轻</tspan><tspan x="1188.5" dy="18">代分区占满时，JVM会分配新的空闲分区加入到年轻代空间</tspan></text><path class="u" d="M1178.5 3489.5H1693"/></g>
<g id="n-humongous"><text class="t" x="1188.5" y="3590">Humongous（大对象</text><path class="u" d="M1178.5 3597H1335.6"/><use href="#mi" x="1335.6" y="3585"/></g>
<g id="n-hum1"><text class="t"><tspan x="1364.8" y="3512">一个大小达到甚至超过分区大小一半的对象称为巨型对象(Humongous Object)。当</tspan><tspan x="1364.8" dy="18">线程为巨型分配空间时，不能简单在TLAB进行分配，因为巨型对象的移动成本很</tspan><tspan x="1364.8" dy="18">高，而且有可能一个分区不能容纳巨型对象。因此，巨型对象会直接在老年代分配，</tspan><tspan x="1364.8" dy="18">所占用的连续空间称为巨型分区(Humongous Region)。G1内部做了一个优化，一</tspan><tspan x="1364.8" dy="18">旦发现没有引用指向巨型对象，则可直接在年轻代收集周期中被回收。</tspan></text><path class="u" d="M1354.8 3591H1870"/></g>
<g id="n-hum2"><text class="t"><tspan x="1364.8" y="3614.4">巨型对象会独占一个、或多个连续分区，其中第一个分区被标记为开始巨型</tspan><tspan x="1364.8" dy="18">(StartsHumongous)，相邻连续分区被标记为连续巨型(ContinuesHumongous)。</tspan><tspan x="1364.8" dy="18">由于无法享受Lab带来的优化，并且确定一片连续的内存空间需要扫描整堆，因此确</tspan><tspan x="1364.8" dy="18">定巨型对象开始位置的成本非常高，如果可以，应用程序应避免生成巨型对象。</tspan></text><path class="u" d="M1354.8 3674H1870"/></g>
<g id="n-tricolor"><text class="t" x="1116.8" y="3842.7">并发标记算法（三色标记法）</text><path class="u" d="M1106.8 3849H1306"/><use href="#mi" x="1306" y="3837.7"/></g>
<g id="n-tc1"><text class="t"><tspan x="1334" y="3698">CMS和G1在并发标记时使用的是同一个算法：三色标记法，使用白灰黑三种颜色标</tspan><tspan x="1334" dy="18">记对象。白色是未标记；灰色自身被标记，引用的对象未标记；黑色自身与引用对象</tspan><tspan x="1334" dy="18">都已标记。</tspan></text><path class="u" d="M1324 3741.5H1841"/></g>
<g id="n-miss"><text class="t" x="1334" y="3875.7">漏标问题</text><path class="u" d="M1324 3882.6H1404"/><use href="#mi" x="1404" y="3870.7"/></g>
<g id="n-miss1"><text class="t"><tspan x="1433.6" y="3764.7">产生漏标问题的条件有两个1.黑色对象指向了白色对象2.灰色对象指向白色对象的引</tspan><tspan x="1433.6" dy="18">用消失</tspan></text><path class="u" d="M1423.6 3789.4H1938"/></g>
<g id="n-miss2"><text class="t" x="1433.6" y="3899">要解决漏标问题，打破两个条件之一即可</text><path class="u" d="M1423.6 3906H1689"/><use href="#mi" x="1689" y="3894"/></g>
<g id="n-iu"><text class="t"><tspan x="1717.8" y="3812">跟踪黑指向白的增加</tspan><tspan x="1717.8" dy="18">incremental update：增量更新，关注引用的增加，把黑色重新标记为灰色，下次重</tspan><tspan x="1717.8" dy="18">新扫描属性。CMS采用该方法。</tspan></text><path class="u" d="M1707.8 3855H2224"/></g>
<g id="n-satb"><text class="t"><tspan x="1717.8" y="3914">记录灰指向白的消失</tspan><tspan x="1717.8" dy="18">SATB snapshot at the beginning：关注引用的删除，当灰->白消失时，要把这个</tspan><tspan x="1717.8" dy="18">引用 推到GC的堆栈，保证白还能被GC扫描到。G1采用该方法。</tspan></text><path class="u" d="M1707.8 3957H2230.5"/><use href="#mi" x="2230.5" y="3927.5"/></g>
<g id="n-whysatb"><text class="t" x="2259.5" y="3932.5">为什么G1采用SATB而不用incremental update?</text><path class="u" d="M2249.5 3939.5H2570"/><use href="#mi" x="2570" y="3927.5"/></g>
<g id="n-whysatbd"><text class="t"><tspan x="2598.5" y="3879.4">因为采用incremental update把黑色重新标记为灰色后，之前扫描过的还要再扫描一</tspan><tspan x="2598.5" dy="17.8">遍，效率太低。</tspan><tspan x="2598.5" dy="17.8">G1有RSet与SATB相配合。Card Table里记录了RSet，RSet里记录了其他对象指向</tspan><tspan x="2598.5" dy="17.8">自己的引用，这样就不需要再扫描其他区域，只要扫描RSet就可以了。</tspan><tspan x="2598.5" dy="17.8">也就是说 灰色->白色 引用消失时，如果没有 黑色->白色，引用会被push到堆栈，</tspan><tspan x="2598.5" dy="17.8">下次扫描时拿到这个引用，由于有RSet的存在，不需要扫描整个堆去查找指向白色的</tspan><tspan x="2598.5" dy="17.8">引用，效率比较高。SATB配合RSet浑然天成。</tspan></text><path class="u" d="M2588.5 3993H3103"/></g>
<g id="n-fullg1"><text class="t" x="1116.8" y="4046">G1在以下场景中会触发Full GC</text><path class="u" d="M1106.8 4053H1314.5"/><use href="#mi" x="1314.5" y="4041"/></g>
<g id="n-fg1"><text class="t" x="1343.6" y="4016.7">从年轻代分区拷贝存活对象时，无法找到可用的空闲分区</text><path class="u" d="M1333.6 4024H1686"/></g>
<g id="n-fg2"><text class="t" x="1343.6" y="4046">从老年代分区转移存活对象时，无法找到可用的空闲分区</text><path class="u" d="M1333.6 4053H1686"/></g>
<g id="n-fg3"><text class="t" x="1343.6" y="4076.4">分配巨型对象时在老年代无法找到足够的连续分区</text><path class="u" d="M1333.6 4083H1646"/></g>
</svg>
